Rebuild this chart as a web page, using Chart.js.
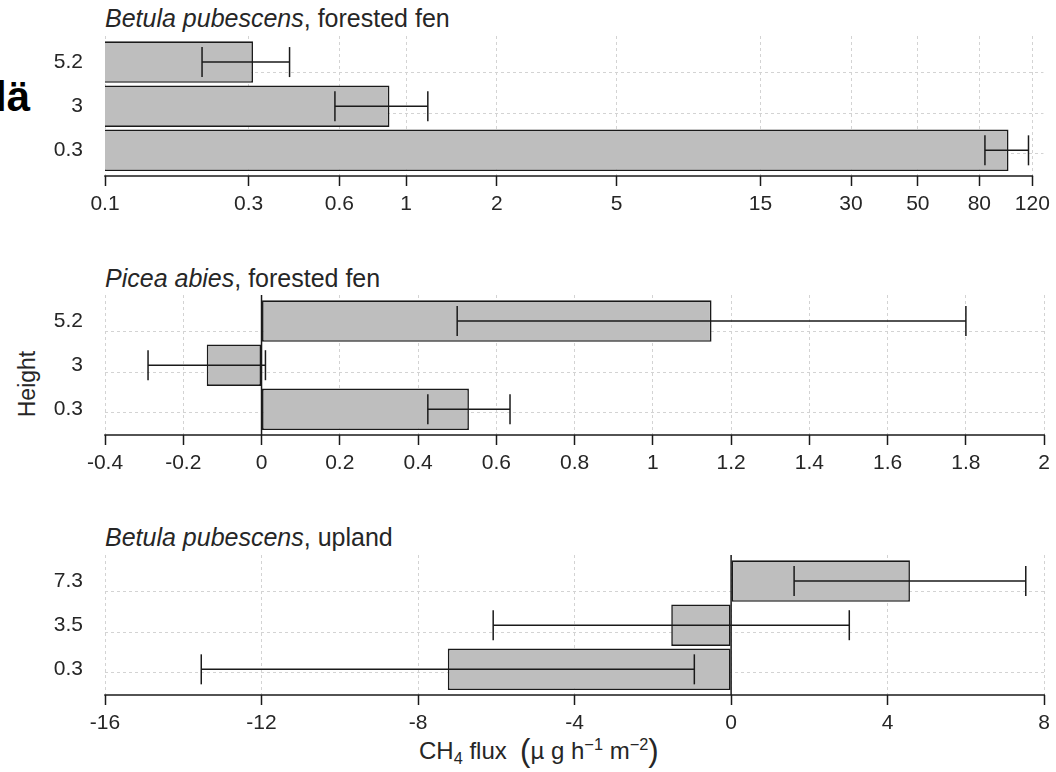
<!DOCTYPE html>
<html>
<head>
<meta charset="utf-8">
<script src="https://cdn.jsdelivr.net/npm/chart.js@4"></script>
<style>
  body { margin: 0; background: #fff; }
  #page { position: relative; width: 1056px; height: 772px; overflow: hidden; font-family: "Liberation Sans", Arial, sans-serif; color: #262626; }
  canvas { position: absolute; left: 0; }
  .ttl { position: absolute; left: 105px; font-size: 25px; white-space: nowrap; line-height: 1; }
  .ttl i { font-style: italic; }
  #ylab { position: absolute; left: 27px; top: 384px; font-size: 23px; transform: translate(-50%, -50%) rotate(-90deg); white-space: nowrap; }
  #xlab { position: absolute; left: 419px; top: 733px; font-size: 24px; white-space: nowrap; line-height: 1; }
  #xlab sub, #xlab sup { font-size: 0.68em; position: relative; vertical-align: baseline; }
  #xlab sub { top: 0.3em; }
  #xlab sup { top: -0.55em; }
  #xlab .par { font-size: 1.3em; position: relative; top: 0.07em; }
  #tag { position: absolute; left: -5px; top: 76px; font: bold 42px "Liberation Sans", Arial, sans-serif; color: #000; line-height: 1; }
</style>
</head>
<body>
<div id="page">
  <div id="tag">lä</div>
  <div class="ttl" style="top:6px"><i>Betula pubescens</i>, forested fen</div>
  <div class="ttl" style="top:266px"><i>Picea abies</i>, forested fen</div>
  <div class="ttl" style="top:525px"><i>Betula pubescens</i>, upland</div>
  <div id="ylab">Height</div>
  <div id="xlab">CH<sub>4</sub> flux&nbsp;&nbsp;<span class="par">(</span>µ g h<sup>−1</sup> m<sup>−2</sup><span class="par">)</span></div>
  <canvas id="c1" width="1056" height="240" style="top:0px"></canvas>
  <canvas id="c2" width="1056" height="240" style="top:259px"></canvas>
  <canvas id="c3" width="1056" height="240" style="top:519px"></canvas>
</div>
<script>
// Betula pubescens, forested fen (log axis)
const heights1 = ['0.3', '3', '5.2'];
const flux1 = [100, 0.88, 0.31];
const se1 = [16.5, 0.30, 0.10];
const ticks1 = [0.1, 0.3, 0.6, 1, 2, 5, 15, 30, 50, 80, 120];

// Picea abies, forested fen
const heights2 = ['0.3', '3', '5.2'];
const flux2 = [0.53, -0.14, 1.15];
const se2 = [0.105, 0.15, 0.65];
const ticks2 = [-0.4, -0.2, 0, 0.2, 0.4, 0.6, 0.8, 1, 1.2, 1.4, 1.6, 1.8, 2];

// Betula pubescens, upland
const heights3 = ['0.3', '3.5', '7.3'];
const flux3 = [-7.24, -1.53, 4.57];
const se3 = [6.3, 4.55, 2.96];
const ticks3 = [-16, -12, -8, -4, 0, 4, 8];

const ink = '#1a1a1a';
const gridGrey = '#d3d3d3';
// bar slots on the height axis, bottom to top
const slots = [0.6, 1.7, 2.8];
const gridAt = [1.03, 2.03, 3.03];

Chart.defaults.font.family = '"Liberation Sans", Arial, sans-serif';
Chart.defaults.font.size = 21;
Chart.defaults.color = '#262626';

// error bars, the axis line (first to last tick) and an optional zero line
const errorBars = {
  id: 'errorBars',
  afterDraw(chart, args, opts) {
    const { ctx, chartArea } = chart;
    const xs = chart.scales.x, ys = chart.scales.y;
    const pts = chart.data.datasets[0].data;
    ctx.save();
    ctx.strokeStyle = ink;
    ctx.lineWidth = 1.5;
    ctx.lineCap = 'butt';
    const seg = (x1, y1, x2, y2) => { ctx.beginPath(); ctx.moveTo(x1, y1); ctx.lineTo(x2, y2); ctx.stroke(); };
    const t = xs.ticks;
    seg(xs.getPixelForValue(t[0].value) - 0.75, chartArea.bottom, xs.getPixelForValue(t[t.length - 1].value) + 0.75, chartArea.bottom);
    if (opts.zeroLine) {
      const x0 = xs.getPixelForValue(0);
      seg(x0, chartArea.top, x0, chartArea.bottom);
    }
    pts.forEach((p, i) => {
      const y = ys.getPixelForValue(p.y);
      const a = xs.getPixelForValue(p.x - opts.se[i]);
      const b = xs.getPixelForValue(p.x + opts.se[i]);
      seg(a, y, b, y);
      seg(a, y - opts.cap, a, y + opts.cap);
      seg(b, y - opts.cap, b, y + opts.cap);
    });
    ctx.restore();
  }
};

function panel(id, heights, flux, se, xScale, zeroLine) {
  new Chart(document.getElementById(id), {
    type: 'bar',
    data: {
      datasets: [{
        data: flux.map((v, i) => ({ x: v, y: slots[i] })),
        backgroundColor: '#bebebe',
        borderColor: ink,
        borderWidth: 1.6,
        borderSkipped: zeroLine ? false : 'start',
        barPercentage: 0.94,
        categoryPercentage: 1
      }]
    },
    options: {
      indexAxis: 'y',
      responsive: false,
      animation: false,
      layout: { padding: { top: 36, right: 10, left: 0, bottom: 0 } },
      plugins: {
        legend: { display: false },
        tooltip: { enabled: false },
        errorBars: { se, zeroLine, cap: 15 }
      },
      scales: {
        x: Object.assign({
          position: 'bottom',
          z: 1,
          afterBuildTicks: s => { s.ticks = xScale.ticks.map(v => ({ value: v })); },
          afterFit: s => { s.height = 64; },
          grid: { color: gridGrey, lineWidth: 1, tickLength: 10, tickColor: ink, tickWidth: 1.5, tickBorderDash: [] },
          border: { display: false, dash: [3, 3] },
          ticks: { autoSkip: false, maxRotation: 0, padding: 6, callback: v => String(v) }
        }, xScale.opts),
        y: {
          type: 'linear',
          position: 'left',
          offset: false,
          min: -0.04,
          max: 3.45,
          afterBuildTicks: s => { s.ticks = slots.map(v => ({ value: v })); },
          afterFit: s => { s.width = 105; },
          grid: { display: false, drawTicks: false, offset: false },
          border: { display: false },
          ticks: { padding: 22, callback: (v, i) => heights[i] }
        },
        yGrid: {
          type: 'linear',
          position: 'left',
          offset: false,
          min: -0.04,
          max: 3.45,
          z: 1,
          afterBuildTicks: s => { s.ticks = gridAt.map(v => ({ value: v })); },
          afterFit: s => { s.width = 0; },
          grid: { color: gridGrey, lineWidth: 1, drawTicks: false },
          border: { display: false, dash: [3, 3] },
          ticks: { display: false }
        }
      }
    },
    plugins: [errorBars]
  });
}

panel('c1', heights1, flux1, se1, { ticks: ticks1, opts: { type: 'logarithmic', min: 0.1, max: 130.6 } }, false);
panel('c2', heights2, flux2, se2, { ticks: ticks2, opts: { type: 'linear', min: -0.4, max: 2 } }, true);
panel('c3', heights3, flux3, se3, { ticks: ticks3, opts: { type: 'linear', min: -16, max: 8 } }, true);
</script>
</body>
</html>
